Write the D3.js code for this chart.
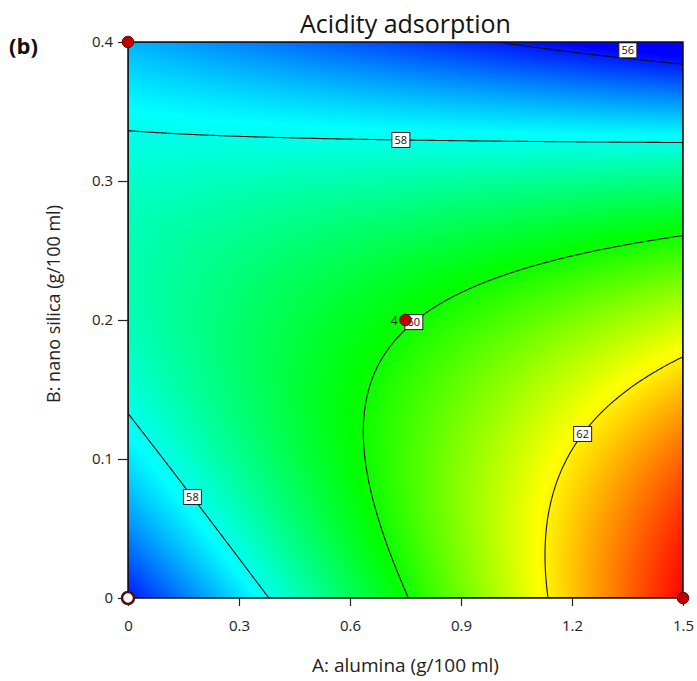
<!DOCTYPE html>
<html>
<head>
<meta charset="utf-8">
<script src="https://cdn.jsdelivr.net/npm/d3@7/dist/d3.min.js"></script>
<style>
  body { margin: 0; background: #fff; }
  text { font-family: "Open Sans", "Noto Sans", sans-serif; }
</style>
</head>
<body>
<svg id="chart" width="697" height="681"></svg>
<script>
// quadratic model, coded units: a = (A - 0.75) / 0.75, b = (B - 0.2) / 0.2
var termNames = ["Intercept", "A", "B", "AB", "A^2", "B^2"];
var coefs = [59.94, 1.526, -1.826, -2.45, 0, -1.808];

var aTicks = [0, 0.3, 0.6, 0.9, 1.2, 1.5];
var bTicks = [0, 0.1, 0.2, 0.3, 0.4];
var levels = [56, 58, 60, 62];

// colour ramp: response value at each colour stop
var rampValues = [55.8, 57.85, 59.9, 61.9, 63.95];
var rampColors = ["#0000ff", "#00ffff", "#00ff00", "#ffff00", "#ff0000"];

// design points
var designA = [0, 0, 1.5, 0.75];
var designB = [0, 0.4, 0, 0.2];
var designCount = [1, 1, 1, 4];
var designFill = ["white", "red", "red", "red"];

// contour labels (data units); snapped ones are moved onto the nearest line vertex
var labelLevel = [56, 58, 58, 60, 62];
var labelA = [1.351, 0.74, 0.19, 0.77, 1.22];
var labelB = [0.394, 0.33, 0.075, 0.2, 0.12];
var labelSnap = [false, true, true, true, true];

function predict(A, B) {
    var a = (A - 0.75) / 0.75, b = (B - 0.2) / 0.2;
    return coefs[0] + coefs[1] * a + coefs[2] * b + coefs[3] * a * b + coefs[4] * a * a + coefs[5] * b * b;
}

var mLeft = 128, mTop = 42, plotW = 555, plotH = 556;
var svg = d3.select("#chart");

var x = d3.scaleLinear().domain([0, 1.5]).range([mLeft, mLeft + plotW]);
var y = d3.scaleLinear().domain([0, 0.4]).range([mTop + plotH, mTop]);

var color = d3.scaleLinear()
    .domain(rampValues)
    .range(rampColors)
    .interpolate(d3.interpolateRgb)
    .clamp(true);

// heat map through a canvas
var canvas = document.createElement("canvas");
canvas.width = plotW;
canvas.height = plotH;
var ctx = canvas.getContext("2d");
var img = ctx.createImageData(plotW, plotH);
for (var j = 0; j < plotH; j++) {
    for (var i = 0; i < plotW; i++) {
        var c = d3.rgb(color(predict(x.invert(mLeft + i + 0.5), y.invert(mTop + j + 0.5))));
        var k = (j * plotW + i) * 4;
        img.data[k] = c.r; img.data[k + 1] = c.g; img.data[k + 2] = c.b; img.data[k + 3] = 255;
    }
}
ctx.putImageData(img, 0, 0);

svg.append("defs").append("clipPath").attr("id", "plotClip")
    .append("rect").attr("x", mLeft).attr("y", mTop).attr("width", plotW).attr("height", plotH);

svg.append("image")
    .attr("x", mLeft).attr("y", mTop)
    .attr("width", plotW).attr("height", plotH)
    .attr("preserveAspectRatio", "none")
    .attr("href", canvas.toDataURL());

// contour lines
var nx = 300, ny = 300;
var grid = new Array(nx * ny);
for (var gj = 0; gj < ny; gj++) {
    for (var gi = 0; gi < nx; gi++) {
        grid[gj * nx + gi] = predict((gi + 0.5) / nx * 1.5, 0.4 - (gj + 0.5) / ny * 0.4);
    }
}
function gx(v) { return x(v / nx * 1.5); }
function gy(v) { return y(0.4 - v / ny * 0.4); }
var contours = d3.contours().size([nx, ny]).thresholds(levels)(grid);
var proj = d3.geoTransform({
    point: function (px, py) { this.stream.point(gx(px), gy(py)); }
});
svg.append("g")
    .attr("clip-path", "url(#plotClip)")
    .selectAll("path")
    .data(contours)
    .enter().append("path")
    .attr("d", d3.geoPath(proj))
    .attr("fill", "none")
    .attr("stroke", "#111")
    .attr("stroke-width", 1.1);

// contour labels
var labelG = svg.append("g");
labelLevel.forEach(function (lv, n) {
    var tx = x(labelA[n]), ty = y(labelB[n]);
    var best = [tx, ty], bestD = Infinity;
    if (labelSnap[n]) {
        var cont = contours.find(function (c) { return c.value === lv; });
        cont.coordinates.forEach(function (poly) {
            poly.forEach(function (ring) {
                ring.forEach(function (p) {
                    if (p[0] <= 0 || p[0] >= nx || p[1] <= 0 || p[1] >= ny) return;
                    var px = gx(p[0]), py = gy(p[1]);
                    var d = (px - tx) * (px - tx) + (py - ty) * (py - ty);
                    if (d < bestD) { bestD = d; best = [px, py]; }
                });
            });
        });
    }
    var g = labelG.append("g").attr("transform", "translate(" + best[0] + "," + best[1] + ")");
    g.append("rect")
        .attr("x", -9).attr("y", -7.5).attr("width", 18).attr("height", 15)
        .attr("fill", "white").attr("stroke", "#222").attr("stroke-width", 1);
    g.append("text")
        .attr("text-anchor", "middle").attr("dy", "0.35em")
        .style("font-size", "11px").attr("fill", "#111")
        .text(lv);
});

// frame
svg.append("rect")
    .attr("x", mLeft).attr("y", mTop).attr("width", plotW).attr("height", plotH)
    .attr("fill", "none").attr("stroke", "#111").attr("stroke-width", 1.5);

// axes
var fmt = function (d) { return String(+d.toFixed(1)); };
var xAxis = svg.append("g")
    .attr("transform", "translate(0," + (mTop + plotH) + ")")
    .call(d3.axisBottom(x).tickValues(aTicks).tickSize(8).tickSizeOuter(0).tickPadding(14).tickFormat(fmt));
var yAxis = svg.append("g")
    .attr("transform", "translate(" + mLeft + ",0)")
    .call(d3.axisLeft(y).tickValues(bTicks).tickSize(10).tickSizeOuter(0).tickPadding(5).tickFormat(fmt));
[xAxis, yAxis].forEach(function (ax) {
    ax.attr("font-size", 15).attr("font-family", "'Open Sans', sans-serif");
    ax.select(".domain").remove();
    ax.selectAll("line").attr("stroke", "#222").attr("stroke-width", 1.2);
    ax.selectAll("text").attr("fill", "#222").style("font-size", "15px");
});

// design points
var pts = svg.append("g");
designA.forEach(function (a, n) {
    var px = x(a), py = y(designB[n]);
    var white = designFill[n] === "white";
    pts.append("circle")
        .attr("cx", px).attr("cy", py).attr("r", white ? 6 : 5.8)
        .attr("fill", white ? "#ffffff" : "#c00000")
        .attr("stroke", white ? "#4a1212" : "#6a0000")
        .attr("stroke-width", white ? 2.5 : 1);
    if (designCount[n] > 1) {
        pts.append("text")
            .attr("x", px - 8).attr("y", py + 4.5)
            .attr("text-anchor", "end").style("font-size", "12px").attr("fill", "#222")
            .text(designCount[n]);
    }
});

// titles
svg.append("text")
    .attr("x", 405.5).attr("y", 33)
    .attr("text-anchor", "middle").style("font-size", "25px").attr("fill", "#111")
    .text("Acidity adsorption");
svg.append("text")
    .attr("x", 405.5).attr("y", 672)
    .attr("text-anchor", "middle").style("font-size", "19px").attr("fill", "#222")
    .text("A: alumina (g/100 ml)");
svg.append("text")
    .attr("transform", "translate(60,304) rotate(-90)")
    .attr("text-anchor", "middle").style("font-size", "18px").attr("fill", "#222")
    .text("B: nano silica (g/100 ml)");
svg.append("text")
    .attr("x", 9).attr("y", 54)
    .style("font-size", "22px").attr("font-weight", "bold").attr("fill", "#111")
    .text("(b)");
</script>
</body>
</html>
